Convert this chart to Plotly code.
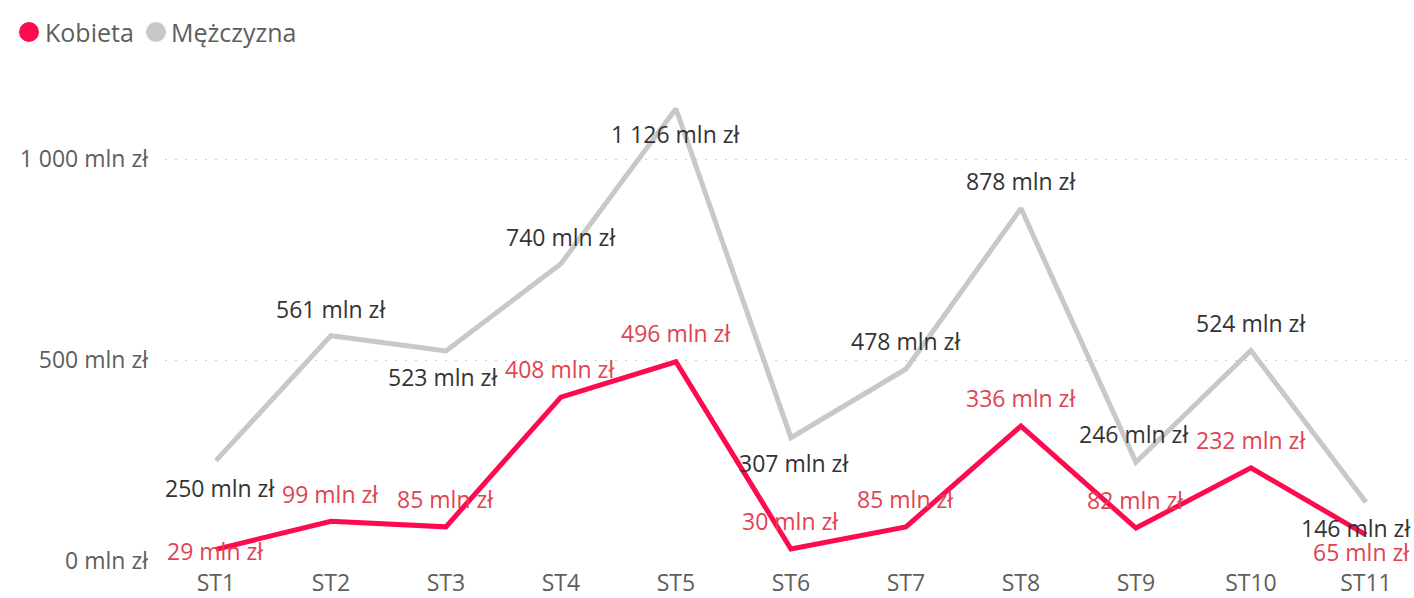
import plotly.graph_objects as go

categories = ["ST1", "ST2", "ST3", "ST4", "ST5", "ST6", "ST7", "ST8", "ST9", "ST10", "ST11"]
series_names = ["Kobieta", "Mężczyzna"]
kobieta = [29, 99, 85, 408, 496, 30, 85, 336, 82, 232, 65]
mezczyzna = [250, 561, 523, 740, 1126, 307, 478, 878, 246, 524, 146]
y_ticks = [0, 500, 1000]

# label placement (pixel shifts), styles only
men_dy = [-27, 27, -26, 27, -25, -25, 28, 27, 28, 28, -26]
men_dx = [4, 0, -3, 0, 0, 3, 0, 0, -2, 0, -10]
wom_dy = [-2, 27, 28, 28, 29, 28, 28, 28, 28, 28, -17]
wom_dx = [0, 0, 0, -1, 0, 0, 0, 0, 0, 0, -4]

C_W = "#FE0A4E"
C_M = "#C8C8C8"
C_WL = "#E04450"
C_ML = "#333333"
C_AX = "#605E5C"
FONT = "Open Sans"

W, H = 1414, 598
ML, MT = 165, 79


def fmt(v):
    return f"{v:,}".replace(",", " ") + " mln zł"


fig = go.Figure()
fig.add_trace(go.Scatter(x=categories, y=mezczyzna, mode="lines", name=series_names[1],
                         line=dict(color=C_M, width=5), showlegend=False, hoverinfo="skip"))
fig.add_trace(go.Scatter(x=categories, y=kobieta, mode="lines", name=series_names[0],
                         line=dict(color=C_W, width=5), showlegend=False, hoverinfo="skip"))

annotations = []
for i, c in enumerate(categories):
    annotations.append(dict(x=c, y=mezczyzna[i], xref="x", yref="y", text=fmt(mezczyzna[i]),
                            showarrow=False, yshift=men_dy[i], xshift=men_dx[i],
                            font=dict(family=FONT, size=23, color=C_ML)))
for i, c in enumerate(categories):
    annotations.append(dict(x=c, y=kobieta[i], xref="x", yref="y", text=fmt(kobieta[i]),
                            showarrow=False, yshift=wom_dy[i], xshift=wom_dx[i],
                            font=dict(family=FONT, size=23, color=C_WL)))

# legend drawn as circles + text (page pixel positions)
legend_items = [(series_names[0], C_W, 29, 43), (series_names[1], C_M, 156, 169)]
shapes = []
LEG_Y = 32
for name, col, cx, tx in legend_items:
    shapes.append(dict(type="circle", xref="paper", yref="paper",
                       xsizemode="pixel", ysizemode="pixel", xanchor=0, yanchor=1,
                       x0=cx - ML - 10, x1=cx - ML + 10,
                       y0=(MT - LEG_Y) - 10, y1=(MT - LEG_Y) + 10,
                       fillcolor=col, line=dict(width=0), layer="above"))
    annotations.append(dict(x=0, y=1, xref="paper", yref="paper", text=name,
                            showarrow=False, xanchor="left", yanchor="middle",
                            xshift=tx - ML, yshift=MT - LEG_Y,
                            font=dict(family=FONT, size=25, color=C_AX)))

fig.update_layout(
    width=W, height=H,
    margin=dict(l=ML, r=0, t=MT, b=37),
    paper_bgcolor="white", plot_bgcolor="white",
    font=dict(family=FONT, size=23, color=C_AX),
    showlegend=False,
    annotations=annotations,
    shapes=shapes,
    xaxis=dict(type="category", range=[-0.443, 10.418], showgrid=False, zeroline=False,
               showline=False, ticks="", tickfont=dict(size=23, color=C_AX),
               ticklabelstandoff=6, fixedrange=True),
    yaxis=dict(range=[0, 1200], tickvals=y_ticks, ticktext=[fmt(v) for v in y_ticks],
               showgrid=True, gridcolor="#CFCFCF", griddash="2px,8px", gridwidth=1,
               zeroline=False, showline=False, ticks="", ticklabelstandoff=16,
               tickfont=dict(size=23, color=C_AX), fixedrange=True),
)

fig.write_html(
    "out.html",
    config={"displayModeBar": False},
    post_script="document.body.style.margin='0';document.body.style.overflow='hidden';",
)
